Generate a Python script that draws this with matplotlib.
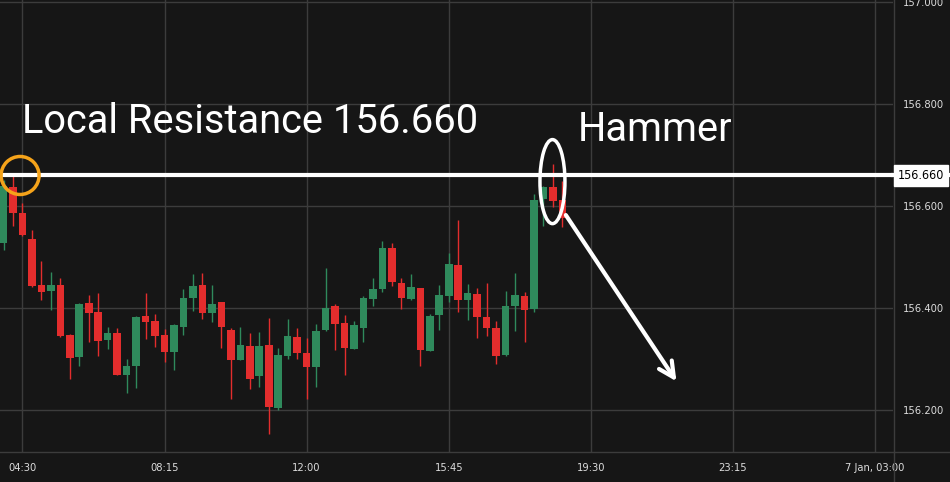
import matplotlib.pyplot as plt
from matplotlib.patches import Ellipse
from matplotlib.lines import Line2D

# 15 min candles starting at 04:00
opens = [156.527, 156.637, 156.587, 156.535, 156.442, 156.435, 156.445, 156.347, 156.305, 156.410,
         156.392, 156.338, 156.351, 156.269, 156.287, 156.384, 156.375, 156.347, 156.314, 156.363,
         156.420, 156.445, 156.391, 156.412, 156.357, 156.299, 156.325, 156.267, 156.327, 156.205,
         156.307, 156.343, 156.312, 156.285, 156.357, 156.404, 156.371, 156.320, 156.361, 156.418,
         156.438, 156.518, 156.449, 156.418, 156.439, 156.316, 156.387, 156.424, 156.484, 156.416,
         156.427, 156.382, 156.361, 156.308, 156.405, 156.424, 156.399, 156.614, 156.637, 156.612]
highs = [156.651, 156.662, 156.607, 156.553, 156.492, 156.471, 156.459, 156.349, 156.410, 156.425,
         156.429, 156.363, 156.361, 156.300, 156.385, 156.429, 156.388, 156.359, 156.369, 156.437,
         156.467, 156.469, 156.445, 156.412, 156.361, 156.363, 156.351, 156.353, 156.380, 156.322,
         156.378, 156.361, 156.341, 156.369, 156.478, 156.408, 156.386, 156.375, 156.424, 156.459,
         156.531, 156.527, 156.459, 156.467, 156.439, 156.388, 156.445, 156.508, 156.573, 156.447,
         156.439, 156.449, 156.375, 156.433, 156.469, 156.431, 156.624, 156.640, 156.682, 156.649]
lows = [156.514, 156.561, 156.542, 156.442, 156.416, 156.396, 156.344, 156.261, 156.286, 156.334,
        156.306, 156.320, 156.269, 156.234, 156.244, 156.340, 156.324, 156.295, 156.278, 156.348,
        156.395, 156.378, 156.373, 156.322, 156.222, 156.299, 156.242, 156.246, 156.154, 156.201,
        156.301, 156.301, 156.222, 156.246, 156.355, 156.318, 156.269, 156.320, 156.334, 156.404,
        156.432, 156.444, 156.399, 156.416, 156.287, 156.316, 156.358, 156.412, 156.393, 156.377,
        156.342, 156.345, 156.291, 156.306, 156.356, 156.334, 156.393, 156.561, 156.599, 156.559]
closes = [156.639, 156.587, 156.543, 156.443, 156.435, 156.444, 156.345, 156.303, 156.408, 156.391,
          156.336, 156.351, 156.269, 156.286, 156.382, 156.373, 156.346, 156.314, 156.367, 156.420,
          156.443, 156.391, 156.408, 156.363, 156.299, 156.327, 156.261, 156.325, 156.206, 156.308,
          156.345, 156.312, 156.285, 156.355, 156.400, 156.369, 156.322, 156.367, 156.420, 156.437,
          156.518, 156.452, 156.420, 156.441, 156.318, 156.384, 156.425, 156.486, 156.416, 156.429,
          156.383, 156.361, 156.306, 156.404, 156.425, 156.397, 156.612, 156.637, 156.610, 156.576]

tick_pos = [2, 17, 32, 47, 62, 77, 92]
tick_labels = ["04:30", "08:15", "12:00", "15:45", "19:30", "23:15", "7 Jan, 03:00"]
price_ticks = [156.2, 156.4, 156.6, 156.8, 157.0]
resistance = 156.660
hammer_idx = 58

BG = "#161616"
GREEN = "#2f8a5c"
RED = "#e32d2d"
GRID = "#3c3c3c"
TXT = "#dcdcdc"
SMALL = dict(family="DejaVu Sans", stretch="condensed")

fig = plt.figure(figsize=(9.5, 4.82), dpi=100, facecolor=BG)
ax = fig.add_axes([0, 30 / 482, 893 / 950, 452 / 482])
ax.set_facecolor(BG)
ax.set_xlim(-0.37, 93.9)
ax.set_ylim(156.118, 157.004)

ax.set_xticks(tick_pos)
ax.set_xticklabels(tick_labels)
ax.set_yticks(price_ticks)
ax.set_yticklabels([f"{p:.3f}" for p in price_ticks])
ax.yaxis.tick_right()
ax.tick_params(axis="both", length=0, colors=TXT, labelsize=8)
ax.tick_params(axis="y", pad=7)
ax.tick_params(axis="x", pad=8)
for lab in ax.get_xticklabels() + ax.get_yticklabels():
    lab.set_family(SMALL["family"])
    lab.set_stretch(SMALL["stretch"])
ax.grid(True, color=GRID, linewidth=1.0)
ax.set_axisbelow(True)
for s in ax.spines.values():
    s.set_visible(False)

# candles
for i in range(len(opens)):
    o, h, l, c = opens[i], highs[i], lows[i], closes[i]
    col = GREEN if c >= o else RED
    ax.vlines(i, l, h, color=col, linewidth=1.0, zorder=2)
    body = max(abs(c - o), 0.012)
    bottom = min(o, c) if abs(c - o) >= 0.012 else (o + c) / 2 - 0.006
    ax.bar(i, body, bottom=bottom, width=0.8, color=col, linewidth=0, zorder=3)

# frame lines
fig.add_artist(Line2D([893.5 / 950] * 2, [0, 1], color=GRID, linewidth=1.0, zorder=1))
fig.add_artist(Line2D([0, 1], [30 / 482] * 2, color=GRID, linewidth=1.0, zorder=1))

# resistance line and price tag
ax.axhline(resistance, color="white", linewidth=3, zorder=5)
y_res = ax.transData.transform((0, resistance))[1] / fig.bbox.height
fig.add_artist(Line2D([893 / 950, 1], [y_res, y_res], color="white", linewidth=3, zorder=8))
fig.text(921 / 950, y_res, f"{resistance:.3f}", va="center", ha="center", fontsize=9,
         color="black", bbox=dict(boxstyle="square,pad=0.3", facecolor="white", edgecolor="white"),
         zorder=10, **SMALL)

# annotations
ax.add_patch(Ellipse((1.75, resistance), 38 / 9.478, 38 / 510, fill=False,
                     edgecolor="#f5a31a", linewidth=2.5, zorder=6))
ax.add_patch(Ellipse((hammer_idx - 0.05, 156.648), 25 / 9.478, 84 / 510, fill=False,
                     edgecolor="white", linewidth=2.5, zorder=6))
ax.annotate("", xy=(71.2, 156.252), xytext=(hammer_idx + 1.2, 156.587),
            arrowprops=dict(arrowstyle="->,head_length=1.1,head_width=0.55", color="white", lw=3),
            zorder=6)
ax.text(1.95, 156.744, "Local Resistance 156.660", color="white", fontsize=28.7,
        family="Roboto", ha="left", va="baseline", zorder=6)
ax.text(60.6, 156.727, "Hammer", color="white", fontsize=28.7,
        family="Roboto", ha="left", va="baseline", zorder=6)

fig.savefig("out.png", dpi=100, facecolor=BG)
